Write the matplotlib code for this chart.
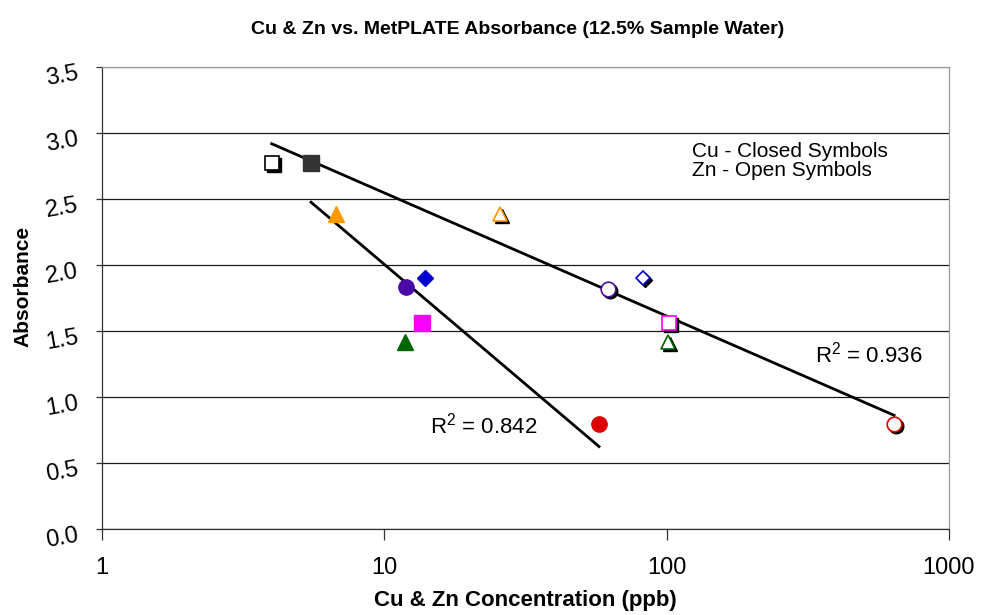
import numpy as np
import matplotlib.pyplot as plt
from matplotlib.ticker import FormatStrFormatter
from matplotlib.transforms import offset_copy, ScaledTranslation

plt.rcParams['font.family'] = ['Liberation Sans', 'DejaVu Sans']
plt.rcParams['mathtext.fontset'] = 'custom'
plt.rcParams['mathtext.rm'] = 'Liberation Sans'

# Cu (closed symbols) and Zn (open symbols), same sample order in both lists
cu_conc = [5.5, 6.74, 11.9, 13.9, 13.6, 11.8, 57.6]
cu_abs = [2.77, 2.39, 1.83, 1.90, 1.56, 1.42, 0.795]
zn_conc = [3.99, 25.6, 62.2, 82.7, 101.7, 101.4, 639]
zn_abs = [2.77, 2.39, 1.82, 1.90, 1.56, 1.42, 0.795]
markers = ['s', '^', 'o', 'D', 's', '^', 'o']
cu_colors = ['#333333', '#FF9900', '#4B0AA5', '#0000D0', '#FF00FF', '#006600', '#DD0000']
zn_colors = ['#000000', '#FF9900', '#4B0AA5', '#0000D0', '#FF00FF', '#006600', '#DD0000']
r2_text = {'Cu': '0.842', 'Zn': '0.936'}

x_ticks = [1, 10, 100, 1000]
y_ticks = [0, 0.5, 1.0, 1.5, 2.0, 2.5, 3.0, 3.5]

fig = plt.figure(figsize=(9.82, 6.15), dpi=100)
ax = fig.add_axes([102/982, 1-529/615, 847/982, 462/615])

ax.set_xscale('log')
ax.set_xlim(1, 1000)
ax.set_ylim(0, 3.5)
ax.set_xticks(x_ticks)
ax.set_xticklabels([str(t) for t in x_ticks])
ax.minorticks_off()
ax.set_yticks(y_ticks)
ax.yaxis.set_major_formatter(FormatStrFormatter('%.1f'))

ax.yaxis.grid(True, color='#1a1a1a', lw=0.9)
ax.yaxis.get_gridlines()[-1].set_color('#999999')
ax.set_axisbelow(True)

for s in ['top', 'right']:
    ax.spines[s].set_color('#999999')
    ax.spines[s].set_linewidth(0.9)
for s in ['left', 'bottom']:
    ax.spines[s].set_color('#333333')
    ax.spines[s].set_linewidth(0.9)

ax.tick_params(axis='x', direction='out', length=8, width=0.9, color='#333333',
               labelsize=17, pad=12)
ax.tick_params(axis='y', direction='out', length=4, width=0.9, color='#333333',
               labelsize=17, pad=13)
down = ScaledTranslation(0, -6/100, fig.dpi_scale_trans)
for lab in ax.get_yticklabels():
    lab.set_rotation(10)
    lab.set_rotation_mode('anchor')
    lab.set_ha('right')
    lab.set_va('center')
    lab.set_transform(lab.get_transform() + down)

# trend lines (log fit) over the range of each metal
for xs, ys in [(cu_conc, cu_abs), (zn_conc, zn_abs)]:
    lx = np.log10(xs)
    m, b = np.polyfit(lx, ys, 1)
    xx = np.array([min(lx), max(lx)])
    ax.plot(10**xx, m*xx + b, color='black', lw=2, zorder=3)

shadow = offset_copy(ax.transData, fig=fig, x=2, y=-2, units='dots')
for i in range(len(markers)):
    ms = 8 if markers[i] == 'D' else 11
    ax.plot(cu_conc[i], cu_abs[i], marker=markers[i], ms=ms, color=cu_colors[i],
            mec=cu_colors[i], ls='none', zorder=4)
    ms = 7.5 if markers[i] == 'D' else 10.5
    ax.plot(zn_conc[i], zn_abs[i], marker=markers[i], ms=ms, color='black',
            mec='black', ls='none', transform=shadow, zorder=4)
    ax.plot(zn_conc[i], zn_abs[i], marker=markers[i], ms=ms, mfc='white',
            mec=zn_colors[i], mew=1.2, ls='none', zorder=5)

ax.text(0.697, 0.797, 'Cu - Closed Symbols\nZn - Open Symbols', transform=ax.transAxes,
        fontsize=15, ha='left', va='center', linespacing=1.0)
ax.text(0.842, 0.377, r'R$^\mathrm{2}$ = ' + r2_text['Zn'], transform=ax.transAxes,
        fontsize=16, ha='left', va='center')
ax.text(0.387, 0.223, r'R$^\mathrm{2}$ = ' + r2_text['Cu'], transform=ax.transAxes,
        fontsize=16, ha='left', va='center')

ax.set_xlabel('Cu & Zn Concentration (ppb)', fontsize=16, fontweight='bold')
ax.xaxis.set_label_coords(0.5, -0.132)
ax.set_ylabel('Absorbance', fontsize=15, fontweight='bold')
ax.yaxis.set_label_coords(-0.0826, 0.524)

fig.text(518/982, 1-30/615, 'Cu & Zn vs. MetPLATE Absorbance (12.5% Sample Water)',
         fontsize=14, fontweight='bold', ha='center', va='center')

fig.savefig('out.png', dpi=100)
